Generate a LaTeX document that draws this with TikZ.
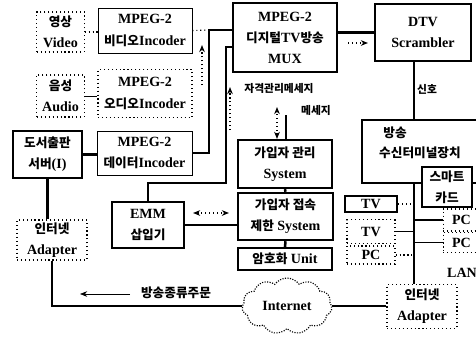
\documentclass[tikz,border=0pt]{standalone}
\usepackage{fontspec}
\setmainfont{Liberation Serif}
\newfontfamily\krfont[Scale=0.9]{Noto Sans CJK KR}
\newcommand{\kr}[1]{{\krfont #1}}
\usetikzlibrary{shapes.symbols, arrows.meta, positioning, calc}

\begin{document}
\begin{tikzpicture}[
    x=0.025cm, y=-0.025cm,
    font=\bfseries\fontsize{10}{15}\selectfont,
    base/.style={inner sep=1pt, align=center, fill=white},
    heavy/.style={base, draw, line width=1.6pt},
    light/.style={base, draw, line width=0.5pt},
    dotbox/.style={base, draw, dotted, line width=0.8pt},
    bus/.style={line width=1.8pt},
    link/.style={line width=0.5pt},
    dlink/.style={dotted, line width=0.8pt},
    arr/.style={-{Stealth[length=1.8mm, width=1.4mm]}},
    darr/.style={{Stealth[length=1.8mm, width=1.4mm]}-{Stealth[length=1.8mm, width=1.4mm]}},
    lbl/.style={inner sep=0pt, font=\bfseries\fontsize{8.5}{10}\selectfont},
]
\useasboundingbox (0,0) rectangle (476,338);
\clip (0,0) rectangle (476,338);

% Sources and encoders
\node[dotbox, minimum width=1.18cm, minimum height=1.0cm] (video) at (60.5,32) {\kr{영상}\\Video};
\node[light, minimum width=2.35cm, minimum height=1.12cm] (venc) at (145,30.5) {MPEG-2\\\kr{비디오}Incoder};
\node[dotbox, minimum width=1.18cm, minimum height=1.05cm] (audio) at (60.5,96) {\kr{음성}\\Audio};
\node[dotbox, minimum width=2.35cm, minimum height=1.18cm] (aenc) at (145,93.5) {MPEG-2\\\kr{오디오}Incoder};
\node[heavy, minimum width=1.72cm, minimum height=1.18cm] (server) at (47.5,154.5) {\kr{도서출판}\\\kr{서버}(I)};
\node[light, minimum width=2.38cm, minimum height=1.1cm] (denc) at (144.5,153) {MPEG-2\\\kr{데이터}Incoder};
\node[dotbox, minimum width=1.75cm, minimum height=1.0cm] (ladp) at (52,240) {\kr{인터넷}\\Adapter};

% Head end
\node[heavy, minimum width=2.6cm, minimum height=1.72cm] (mux) at (285,37.5) {MPEG-2\\\kr{디지털}TV\kr{방송}\\MUX};
\node[heavy, minimum width=2.4cm, minimum height=1.42cm] (scr) at (423,32.5) {DTV\\Scrambler};
\node[heavy, minimum width=1.8cm, minimum height=1.15cm] (emm) at (148,225) {EMM\\\kr{삽입기}};
\node[heavy, minimum width=2.35cm, minimum height=1.2cm] (subm) at (285,164) {\kr{가입자 관리}\\System};
\node[heavy, minimum width=2.38cm, minimum height=1.18cm] (cas) at (285.5,216.5) {\kr{가입자 접속}\\\kr{제한} System};
\node[heavy, minimum width=2.35cm, minimum height=0.55cm] (enc) at (285,259) {\kr{암호화} Unit};
\node[cloud, draw, densely dotted, line width=0.8pt, cloud puffs=11, cloud puff arc=110, aspect=1.6,
      minimum width=2.25cm, minimum height=1.4cm, inner sep=0pt] (net) at (287,306) {Internet};

% Receiver side
\node[heavy, minimum width=3.0cm, minimum height=1.58cm] (recv) at (422,151.5) {};
\node[lbl, font=\bfseries\fontsize{10}{15}\selectfont] (recvt1) at (395,133) {\kr{방송}};
\node[lbl, font=\bfseries\fontsize{10}{15}\selectfont] (recvt2) at (420,153) {\kr{수신터미널장치}};
\node[heavy, minimum width=1.25cm, minimum height=1.0cm] (card) at (447,187) {\kr{스마트}\\\kr{카드}};
\node[heavy, minimum width=1.3cm, minimum height=0.4cm] (tv1) at (371,204) {TV};
\node[dotbox, minimum width=1.2cm, minimum height=0.58cm] (tv2) at (371,231.5) {TV};
\node[dotbox, minimum width=1.2cm, minimum height=0.45cm] (pc1) at (371,255) {PC};
\node[dotbox, minimum width=0.92cm, minimum height=0.55cm] (pc2) at (461.5,220) {PC};
\node[dotbox, minimum width=0.92cm, minimum height=0.48cm] (pc3) at (461.5,242.5) {PC};
\node[lbl, font=\bfseries\fontsize{10}{15}\selectfont] (lan) at (462,273) {LAN};
\node[dotbox, minimum width=1.75cm, minimum height=1.08cm] (radp) at (422,306.5) {\kr{인터넷}\\Adapter};

% Junctions
\coordinate (j1) at (209,30);
\coordinate (j2) at (226,47);
\coordinate (j3) at (226,183);
\coordinate (b) at (414,0);

% Encoder paths
\draw[dlink] (video.east) -- (venc.west |- video.east);
\draw[link] (audio.east) -- (aenc.west |- audio.east);
\draw[dlink] (venc.east) -- (j1);
\draw[bus] (denc.east) -| (j1) -- (mux.west |- j1);
\draw[bus] (server.east) -- (denc.west |- server.east);
\draw[bus] (emm.north) |- (j3) -- (j2) -- (mux.west |- j2);
\draw[bus] (server.south) -- (server.south |- ladp.north);
\draw[bus] (ladp.south) |- (net.west);
\draw[bus] (net.east) -- (radp.west |- net.east);

% Flow marks
\coordinate (f1a) at (202,85); \coordinate (f1b) at (202,45);
\draw[dlink, arr] (f1a) -- (f1b);
\coordinate (f2a) at (230,130); \coordinate (f2b) at (230,87);
\draw[dlink, arr] (f2a) -- (f2b);
\node[lbl] (emmlbl) at (279,88) {\kr{자격관리메세지}};
\coordinate (f3a) at (277,139); \coordinate (f3b) at (277,107);
\draw[dlink, darr] (f3a) -- (f3b);
\coordinate (c6) at (286,115);
\draw[bus] (c6) -- (c6 |- subm.north);
\node[lbl] (msglbl) at (316,110) {\kr{메세지}};

% Conditional access chain
\draw[bus] (subm.south) -- (cas.north);
\draw[bus] (cas.south) -- (enc.north);
\draw[bus] (emm.east) -- (emm.east -| cas.west);
\coordinate (f4a) at (193,213); \coordinate (f4b) at (229,213);
\draw[dlink, darr] (f4a) -- (f4b);

% MUX to scrambler to receiver
\draw[bus] (mux.east |- scr.west) -- (scr.west);
\coordinate (f5a) at (348,43); \coordinate (f5b) at (368,43);
\draw[dlink, arr] (f5a) -- (f5b);
\draw[line width=0.9pt] (scr.south -| b) -- (recv.north -| b);
\node[lbl] (siglbl) at (427,89) {\kr{신호}};

% Home network bus
\draw[bus] (recv.south -| b) -- (radp.north -| b);
\draw[dlink] (tv1.east) -- (tv1.east -| b);
\draw[link] (tv2.east) -- (tv2.east -| b);
\draw[dlink] (pc1.east) -- (pc1.east -| b);
\draw[line width=1.1pt] (pc2.west -| b) -- (pc2.west);
\draw[line width=1.1pt] (pc3.west -| b) -- (pc3.west);

% Order back channel
\coordinate (f6a) at (130,294); \coordinate (f6b) at (80,294);
\draw[link, arr] (f6a) -- (f6b);
\node[lbl, font=\bfseries\fontsize{10}{12}\selectfont] (ordlbl) at (176,293) {\kr{방송종류주문}};

\end{tikzpicture}
\end{document}
